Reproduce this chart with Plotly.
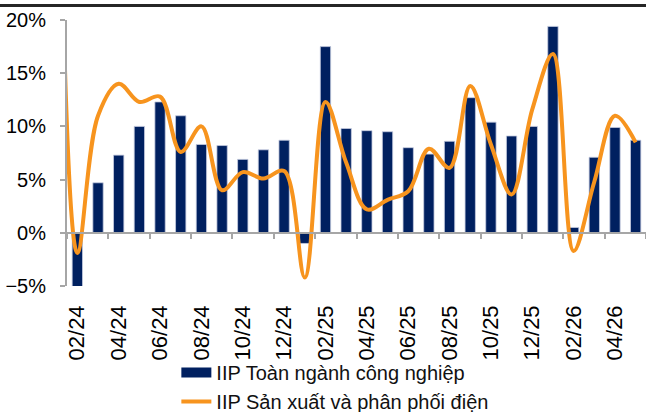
import plotly.graph_objects as go

# Monthly categories (01/24 only carries the electricity line, which enters clipped from the left)
categories = ["01/24", "02/24", "03/24", "04/24", "05/24", "06/24", "07/24", "08/24", "09/24",
              "10/24", "11/24", "12/24", "01/25", "02/25", "03/25", "04/25", "05/25", "06/25",
              "07/25", "08/25", "09/25", "10/25", "11/25", "12/25", "01/26", "02/26", "03/26",
              "04/26", "05/26"]

# IIP Toàn ngành công nghiệp (% YoY)
iip_total = [None, -5.2, 4.7, 7.3, 10.0, 12.3, 11.0, 8.3, 8.2, 6.9, 7.8, 8.7, -1.0, 17.5,
             9.8, 9.6, 9.5, 8.0, 7.4, 8.6, 12.7, 10.4, 9.1, 10.0, 19.4, 0.5, 7.1, 9.9, 8.7]

# IIP Sản xuất và phân phối điện (% YoY)
iip_power = [52.0, -1.9, 11.0, 14.0, 12.3, 12.8, 7.6, 10.0, 4.0, 5.7, 5.1, 5.8, -4.2, 12.3,
             6.6, 2.2, 3.1, 3.9, 7.9, 6.1, 13.8, 8.3, 3.6, 11.6, 16.8, -1.7, 4.8, 11.0, 8.5]

name_total = "IIP Toàn ngành công nghiệp"
name_power = "IIP Sản xuất và phân phối điện"

NAVY = "#002060"
ORANGE = "#F7941E"
GREY = "#a6a6a6"
FONT = "Liberation Sans, Arial, sans-serif"

fig = go.Figure()

fig.add_trace(go.Bar(
    x=categories, y=iip_total, name=name_total, showlegend=False,
    marker=dict(color=NAVY, line=dict(color="#c5cbe0", width=0.8)),
    xaxis="x", yaxis="y",
))

fig.add_trace(go.Scatter(
    x=categories, y=iip_power, name=name_power, showlegend=False,
    mode="lines", line=dict(color=ORANGE, width=4, shape="spline", smoothing=1.0),
    xaxis="x2", yaxis="y",
))

# legend proxies (wide symbols as in the reference)
fig.add_trace(go.Scatter(x=[None], y=[None], name=name_total, mode="lines",
                         line=dict(color=NAVY, width=10), xaxis="x", yaxis="y"))
fig.add_trace(go.Scatter(x=[None], y=[None], name=name_power, mode="lines",
                         line=dict(color=ORANGE, width=4), xaxis="x", yaxis="y"))

xr = [0.5, len(categories) - 0.5]

fig.update_layout(
    width=646, height=412,
    margin=dict(l=67, r=0, t=20, b=126, autoexpand=False),
    paper_bgcolor="white", plot_bgcolor="white",
    font=dict(family=FONT, color="#000000", size=20),
    bargap=0.5,
    showlegend=True,
    legend=dict(
        orientation="v", xref="container", yref="container",
        x=0.273, y=0.143, xanchor="left", yanchor="top",
        font=dict(family=FONT, size=20, color="#111111"),
        bgcolor="rgba(0,0,0,0)", tracegroupgap=0, itemwidth=30,
    ),
    xaxis=dict(
        type="category", categoryorder="array", categoryarray=categories,
        range=xr, tickmode="linear", tick0=1, dtick=2,
        tickangle=-90, ticks="", showline=False, showgrid=False, zeroline=False,
        tickfont=dict(family=FONT, size=22, color="#000000"),
        ticklabelstandoff=14, automargin=False,
    ),
    xaxis2=dict(
        type="category", categoryorder="array", categoryarray=categories,
        range=xr, overlaying="x", anchor="free", position=0.2,
        tickmode="linear", tick0=1, dtick=2, tickson="boundaries",
        ticks="outside", ticklen=5, tickwidth=1.5, tickcolor=GREY,
        showticklabels=False, showline=True, linecolor=GREY, linewidth=2,
        showgrid=False, zeroline=False, automargin=False,
    ),
    yaxis=dict(
        range=[-5, 20], dtick=5, tick0=0, ticksuffix="%",
        showline=True, linecolor=GREY, linewidth=2,
        ticks="outside", ticklen=5, tickwidth=1.5, tickcolor=GREY,
        showgrid=False, zeroline=False, automargin=False,
        tickfont=dict(family=FONT, size=20, color="#000000"),
        ticklabelstandoff=10,
    ),
    shapes=[dict(type="rect", xref="paper", yref="paper",
                 x0=-0.2, x1=1.1, y0=1.0489, y1=1.0602,
                 fillcolor="#262626", line=dict(width=0), layer="above")],
)

fig.write_html("out.html", config={"displayModeBar": False},
               post_script="document.body.style.margin='0';document.body.style.overflow='hidden';")
